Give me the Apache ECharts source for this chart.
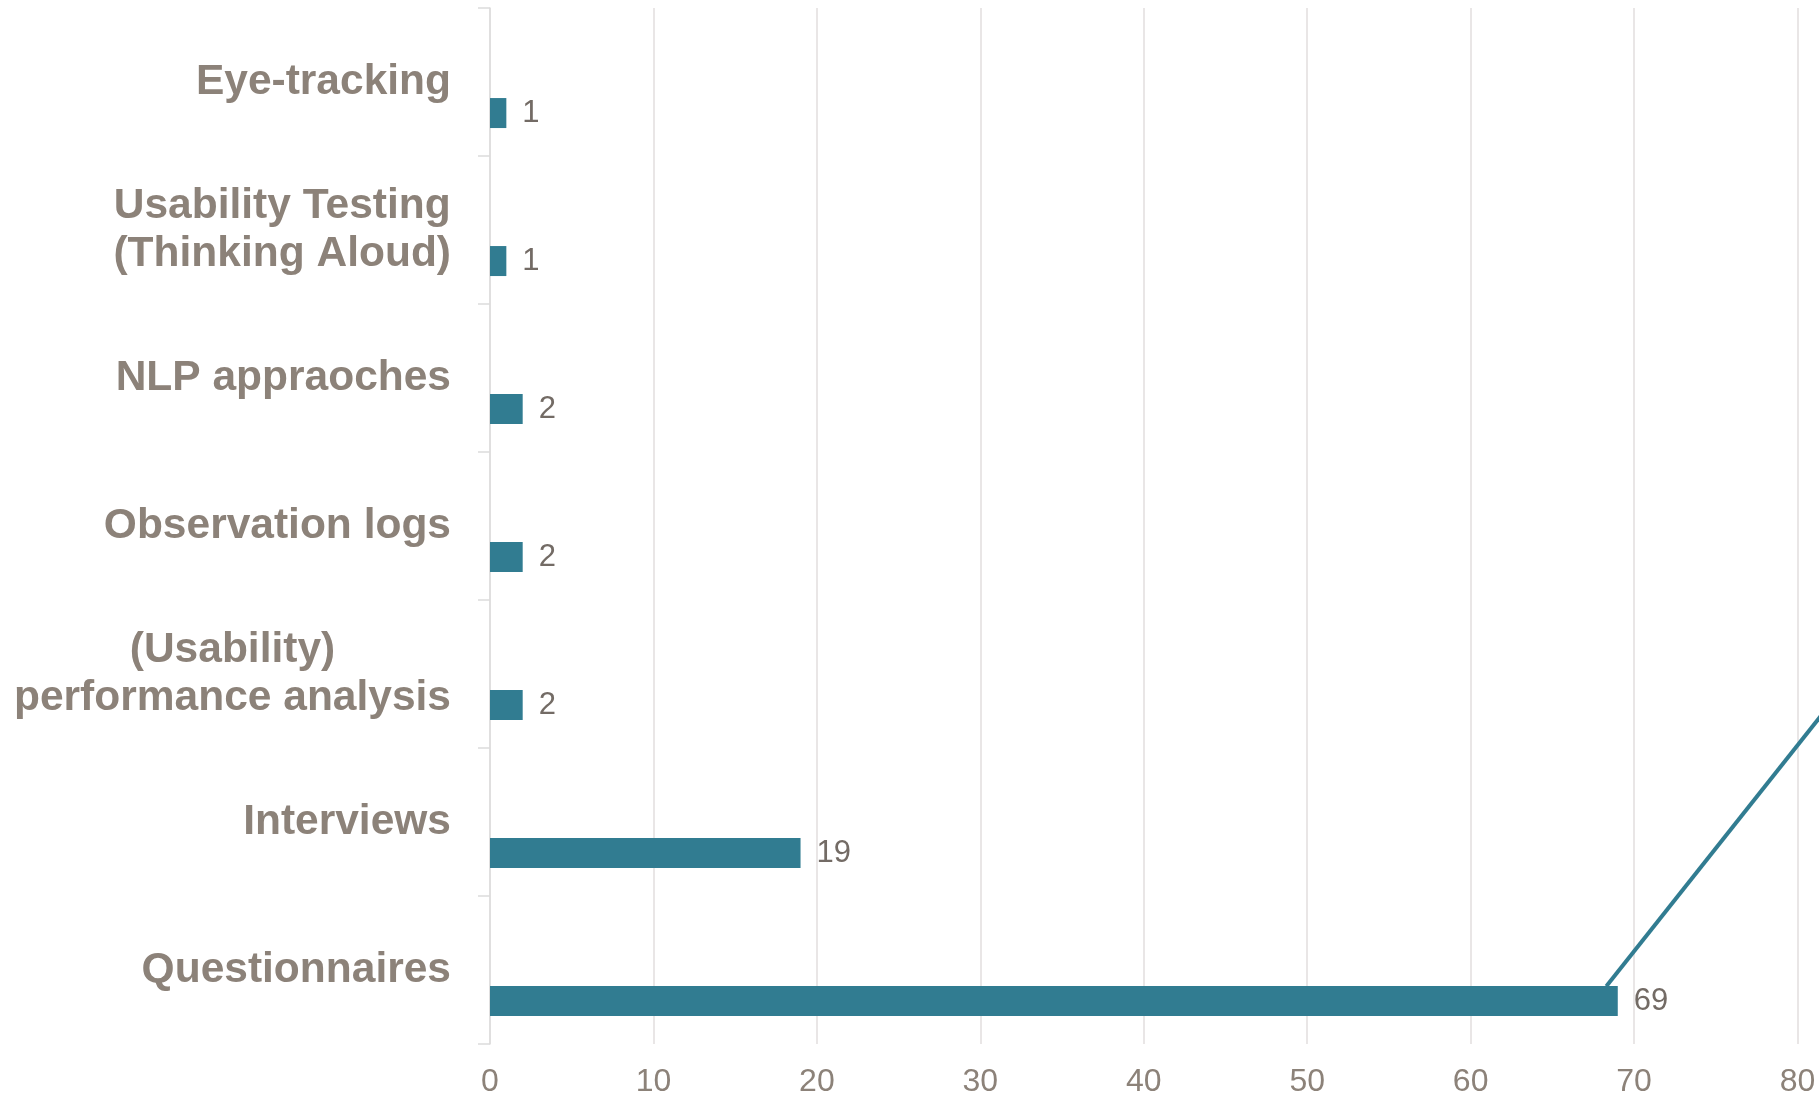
<!DOCTYPE html>
<html><head><meta charset="utf-8">
<script src="https://cdn.jsdelivr.net/npm/echarts@6/dist/echarts.min.js"></script>
<style>html,body{margin:0;padding:0;background:#fff}#c{width:1819px;height:1097px}</style>
</head><body><div id="c"></div>
<script>
var categories = ['Eye-tracking', 'Usability Testing\n(Thinking Aloud)', 'NLP appraoches', 'Observation logs', '(Usability)\nperformance analysis', 'Interviews', 'Questionnaires'];
var counts = [1, 1, 2, 2, 2, 19, 69];
var xTicks = [0, 10, 20, 30, 40, 50, 60, 70, 80, 90];
var leaderLine = [[68.3, 0.39], [90, 3.41]];

var chart = echarts.init(document.getElementById('c'), null, {renderer: 'canvas'});
chart.setOption({
  animation: false,
  backgroundColor: '#ffffff',
  grid: {left: 490, top: 8, bottom: 53, right: -142, containLabel: false, outerBoundsMode: 'none'},
  xAxis: [{
    type: 'value', min: xTicks[0], max: xTicks[xTicks.length - 1], interval: 10,
    axisLine: {show: false}, axisTick: {show: false},
    splitLine: {show: true, lineStyle: {color: '#e2dede', width: 1.5}},
    axisLabel: {color: '#8c8279', fontSize: 32, fontFamily: 'Liberation Sans, Arial, sans-serif', margin: 22,
      formatter: function (v) { return v === 90 ? '' : String(v); }}
  }, {
    type: 'value', min: xTicks[0], max: xTicks[xTicks.length - 1], show: false
  }],
  yAxis: [{
    type: 'category', data: categories, inverse: true,
    axisLine: {show: true, lineStyle: {color: '#dcdcdc', width: 1.5}},
    axisTick: {show: true, length: 12, lineStyle: {color: '#dcdcdc', width: 1.5}},
    axisLabel: {
      margin: 39, align: 'right',
      formatter: function (v) { return v.split('\n').map(function (s) { return '{c|' + s + '}'; }).join('\n'); },
      rich: {c: {align: 'center', color: '#8c8279', fontSize: 42.5, fontWeight: 'bold', lineHeight: 48, fontFamily: 'Liberation Sans, Arial, sans-serif'}}
    }
  }, {
    type: 'value', min: 0, max: 7, show: false
  }],
  series: [{
    type: 'bar', name: 'spacer', xAxisIndex: 0, yAxisIndex: 0,
    data: categories.map(function () { return '-'; }),
    barWidth: 30, barGap: '107%', silent: true
  }, {
    type: 'bar', name: 'Count', xAxisIndex: 0, yAxisIndex: 0,
    data: counts, barWidth: 30, barGap: '107%',
    itemStyle: {color: '#317c91'},
    label: {show: true, position: 'right', distance: 16, color: '#736b65', fontSize: 31, fontFamily: 'Liberation Sans, Arial, sans-serif'}
  }, {
    type: 'line', xAxisIndex: 1, yAxisIndex: 1, data: leaderLine,
    symbol: 'none', lineStyle: {color: '#317c91', width: 4}, silent: true, z: 5
  }]
});
</script></body></html>
